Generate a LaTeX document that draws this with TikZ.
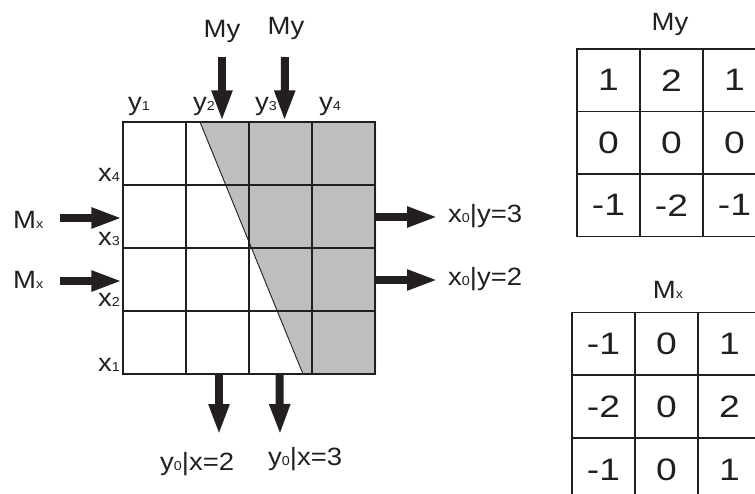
\documentclass[tikz,border=0pt]{standalone}
\usepackage{fontspec}
\setmainfont[FakeStretch=1.1]{Liberation Sans}
\newfontfamily\kernelfont[FakeStretch=1.2]{Liberation Sans}
\usetikzlibrary{arrows.meta, positioning}
\definecolor{inkblack}{RGB}{35, 31, 32}
\definecolor{shadegray}{RGB}{188, 190, 192}
\newcommand{\idx}[1]{{\fontsize{13}{13}\selectfont #1}}

\begin{document}
\begin{tikzpicture}[
  x=1pt, y=-1pt,
  gridcell/.style = {rectangle, draw=inkblack, line width=1.3pt, minimum size=63pt, inner sep=0pt},
  kcell/.style    = {rectangle, draw=inkblack, line width=1.1pt, minimum width=63pt,
                     minimum height=62.5pt, inner sep=0pt, text=inkblack,
                     font=\kernelfont\fontsize{31}{31}\selectfont},
  lbl/.style      = {inner sep=0pt, text=inkblack, font=\fontsize{25}{25}\selectfont},
  bigarrow/.style = {draw=inkblack, line width=8pt, -{Triangle[length=31pt, width=19pt]}}
]
\useasboundingbox (0,0) rectangle (755,494);
\clip (0,0) rectangle (755,494);

% shaded part of the image
\fill[shadegray] (200,122) -- (376,122) -- (376,374) -- (303,374) -- cycle;

% 4x4 pixel grid
\foreach \r in {1,...,4}
  \foreach \c in {1,...,4}
    \node[gridcell] (g-\r-\c) at ({123+63*(\c-0.5)}, {122+63*(\r-0.5)}) {};
\draw[inkblack, line width=0.9pt] (200,122) -- (303,374);

% column and row labels
\node[lbl, anchor=base west] (ylab1) at (128,111) {y\idx{1}};
\node[lbl, anchor=base west] (ylab2) at (193,111) {y\idx{2}};
\node[lbl, anchor=base west] (ylab3) at (255,111) {y\idx{3}};
\node[lbl, anchor=base west] (ylab4) at (319,111) {y\idx{4}};
\node[lbl, anchor=base east] (xlab4) at (120,182) {x\idx{4}};
\node[lbl, anchor=base east] (xlab3) at (120,246) {x\idx{3}};
\node[lbl, anchor=base east] (xlab2) at (120,307) {x\idx{2}};
\node[lbl, anchor=base east] (xlab1) at (120,371) {x\idx{1}};

% incoming masks
\node[lbl, anchor=base] (mya) at (222,38) {My};
\node[lbl, anchor=base] (myb) at (286,35) {My};
\node[lbl, anchor=base west] (mxa) at (13,229) {M\idx{x}};
\node[lbl, anchor=base west] (mxb) at (13,289) {M\idx{x}};
\coordinate (mya-s) at (222,57);
\coordinate (myb-s) at (285,57);
\coordinate (mxa-s) at (60,218);
\coordinate (mxb-s) at (60,281);
\draw[bigarrow] (mya-s) -- ([xshift=4.5pt]g-1-2.north);
\draw[bigarrow] (myb-s) -- ([xshift=4pt]g-1-3.north);
\draw[bigarrow] (mxa-s) -- ([yshift=-1.5pt]g-2-1.west);
\draw[bigarrow] (mxb-s) -- ([yshift=-1.5pt]g-3-1.west);

% outgoing results
\node[lbl, anchor=base west] (x0a) at (448,223) {x\idx{0}|y=3};
\node[lbl, anchor=base west] (x0b) at (448,286) {x\idx{0}|y=2};
\node[lbl, anchor=base west] (y0a) at (160,470) {y\idx{0}|x=2};
\node[lbl, anchor=base west] (y0b) at (268,465) {y\idx{0}|x=3};
\coordinate (x0a-e) at (438,217);
\coordinate (x0b-e) at (438,280);
\coordinate (y0a-e) at (219,435);
\coordinate (y0b-e) at (280,435);
\draw[bigarrow] ([yshift=-0.5pt]g-2-4.east) -- (x0a-e);
\draw[bigarrow] ([yshift=-0.5pt]g-3-4.east) -- (x0b-e);
\draw[bigarrow] ([xshift=1.5pt]g-4-2.south) -- (y0a-e);
\draw[bigarrow] ([xshift=-1pt]g-4-3.south) -- (y0b-e);

% kernels
\node[lbl, anchor=base] (mytitle) at (670,31) {My};
\foreach \vals [count=\r] in {{1,2,1},{0,0,0},{-1,-2,-1}}
  \foreach \v [count=\c] in \vals
    \node[kcell] (my-\r-\c) at ({577+63*(\c-0.5)}, {49+62.5*(\r-0.5)}) {\v};

\node[lbl, anchor=base] (mxtitle) at (668,299) {M\idx{x}};
\foreach \vals [count=\r] in {{-1,0,1},{-2,0,2},{-1,0,1}}
  \foreach \v [count=\c] in \vals
    \node[kcell] (mx-\r-\c) at ({572+63*(\c-0.5)}, {312+63*(\r-0.5)}) {\v};

\end{tikzpicture}
\end{document}
